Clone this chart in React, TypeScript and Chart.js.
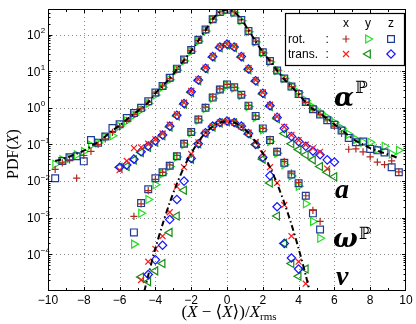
import React, { useEffect, useRef } from 'react';
import { Chart, registerables } from 'chart.js';
Chart.register(...registerables);

// ---------- data (log10 of PDF values) ----------
const xAlpha = [-9.6,-9.2,-8.8,-8.4,-8.0,-7.6,-7.2,-6.8,-6.4,-6.0,-5.6,-5.2,-4.8,-4.4,-4.0,-3.6,-3.2,-2.8,-2.4,-2.0,-1.6,-1.2,-0.8,-0.4,0,0.4,0.8,1.2,1.6,2.0,2.4,2.8,3.2,3.6,4.0,4.4,4.8,5.2,5.6,6.0,6.4,6.8,7.2,7.6,8.0,8.4,8.8,9.2,9.6];
const alphaRotZ = [-1.92,-1.45,-1.35,-1.32,-1.46,-0.88,-0.95,-0.78,-0.55,-0.45,-0.28,-0.14,0.00,0.18,0.42,0.60,0.82,1.07,1.32,1.58,1.86,2.14,2.42,2.62,2.68,2.60,2.40,2.10,1.82,1.52,1.28,1.02,0.80,0.58,0.38,0.16,-0.04,-0.18,-0.34,-0.46,-0.62,-0.82,-0.94,-0.92,-1.12,-1.16,-1.22,-1.62,-1.76];
const alphaRotY = [-1.54,-1.42,-1.38,-1.28,-1.19,-1.02,-0.96,-0.80,-0.76,-0.50,-0.36,-0.20,-0.06,0.12,0.35,0.56,0.77,1.03,1.28,1.54,1.82,2.10,2.40,2.61,2.67,2.60,2.38,2.08,1.80,1.50,1.25,1.02,0.80,0.60,0.42,0.20,0.02,-0.12,-0.26,-0.40,-0.56,-0.72,-0.86,-0.94,-0.94,-1.13,-1.05,-1.26,-1.16];
const alphaRotX = [-1.68,-1.50,-1.42,-1.92,-1.30,-1.19,-1.00,-0.85,-0.67,-0.52,-0.34,-0.18,-0.03,0.16,0.40,0.60,0.80,1.05,1.30,1.56,1.84,2.12,2.42,2.62,2.68,2.62,2.40,2.10,1.82,1.52,1.28,1.03,0.80,0.58,0.38,0.15,-0.04,-0.18,-0.32,-0.50,-0.70,-1.13,-1.12,-1.20,-1.34,-1.48,-1.55,-1.45,-1.75];
const alphaFit = [-1.45,-1.40,-1.33,-1.25,-1.17,-1.05,-0.93,-0.78,-0.62,-0.48,-0.32,-0.16,-0.02,0.15,0.40,0.60,0.80,1.05,1.30,1.56,1.84,2.12,2.42,2.62,2.68,2.62,2.42,2.12,1.82,1.52,1.28,1.02,0.78,0.58,0.38,0.15,-0.03,-0.16,-0.30,-0.45,-0.60,-0.76,-0.90,-1.00,-1.10,-1.17,-1.24,-1.30,-1.38];

const xA = [-6.0,-5.6,-5.2,-4.8,-4.4,-4.0,-3.6,-3.2,-2.8,-2.4,-2.0,-1.6,-1.2,-0.8,-0.4,0,0.4,0.8,1.2,1.6,2.0,2.4,2.8,3.2,3.6,4.0,4.4,4.8,5.2,5.6,6.0];
const aTransZ = [-1.62,-1.56,-1.40,-1.20,-1.04,-0.90,-0.74,-0.50,-0.20,0.12,0.44,0.76,1.08,1.40,1.66,1.74,1.66,1.40,1.06,0.74,0.40,0.06,-0.26,-0.56,-0.78,-0.92,-1.05,-1.18,-1.28,-1.42,-1.48];
const aTransX = [-1.70,-1.45,-1.10,-1.08,-0.98,-0.86,-0.70,-0.46,-0.18,0.14,0.46,0.78,1.10,1.42,1.67,1.74,1.67,1.42,1.08,0.76,0.42,0.08,-0.24,-0.52,-0.74,-0.88,-1.00,-1.10,-1.20,-1.66,null];
const aTransY = [-1.62,-1.60,-1.42,-1.22,-1.08,-0.94,-0.76,-0.52,-0.22,0.10,0.42,0.74,1.06,1.38,1.64,1.72,1.64,1.38,1.04,0.72,0.38,0.04,-0.30,-0.70,-0.98,-1.14,-1.28,-1.42,-1.60,-1.76,-1.88];

const xOmega = [-5.2,-4.8,-4.4,-4.0,-3.6,-3.2,-2.8,-2.4,-2.0,-1.6,-1.2,-0.8,-0.4,0,0.4,0.8,1.2,1.6,2.0,2.4,2.8,3.2,3.6,4.0,4.4,4.8,5.2];
const omegaRotZ = [-3.40,-2.60,-2.22,-1.92,-1.76,-1.58,-1.32,-0.98,-0.66,-0.32,0.00,0.28,0.50,0.64,0.56,0.36,0.06,-0.22,-0.56,-0.88,-1.20,-1.50,-1.82,-2.06,-2.40,-2.88,-3.32];
const omegaRotY = [-3.72,-2.88,-2.50,-2.10,-1.80,-1.60,-1.34,-1.00,-0.68,-0.34,-0.02,0.26,0.48,0.62,0.54,0.34,0.04,-0.26,-0.60,-0.92,-1.24,-1.55,-1.86,-2.14,-2.62,-3.10,-3.56];
const omegaRotX = [-2.96,-2.62,-2.26,-1.95,-1.76,-1.56,-1.30,-0.96,-0.64,-0.30,0.02,0.30,0.52,0.64,0.56,0.36,0.06,-0.22,-0.56,-0.86,-1.18,-1.46,-1.78,-2.04,-2.40,-2.80,-3.10];

const xV = [-4.8,-4.4,-4.0,-3.6,-3.2,-2.8,-2.4,-2.0,-1.6,-1.2,-0.8,-0.4,0,0.4,0.8,1.2,1.6,2.0,2.4,2.8,3.2,3.6,4.0,4.4,4.8];
const vTransX = [-4.70,-4.20,-3.85,-3.50,-2.85,-2.15,-1.62,-1.26,-0.94,-0.68,-0.51,-0.40,-0.37,-0.40,-0.51,-0.68,-0.93,-1.24,-1.62,-2.05,-2.65,-3.50,-4.20,-4.80,null];
const vTransZ = [null,-4.55,-4.15,-3.75,-3.05,-2.50,-2.00,-1.38,-0.98,-0.68,-0.50,-0.40,-0.36,-0.40,-0.50,-0.70,-1.00,-1.35,-1.85,-2.70,-3.70,-4.10,-4.40,null,null];
const vTransY = [-4.62,-4.75,-4.45,-4.25,-3.40,-2.95,-2.25,-1.40,-0.98,-0.70,-0.52,-0.41,-0.38,-0.41,-0.53,-0.72,-1.00,-1.40,-2.05,-2.95,-3.70,-4.25,-4.60,-4.40,null];
const vFit = [-5.37,-4.57,-3.84,-3.18,-2.59,-2.07,-1.62,-1.24,-0.93,-0.68,-0.51,-0.40,-0.37,-0.40,-0.51,-0.68,-0.93,-1.24,-1.62,-2.07,-2.59,-3.18,-3.84,-4.57,-5.37];

const xTickValues = [-10,-8,-6,-4,-2,0,2,4,6,8,10];
const yTickExponents = [-4,-3,-2,-1,0,1,2];
const legendCols = ['x','y','z'];
const legendRows = ['rot.','trans.'];

// ---------- styles ----------
type M = { shape: string; color: string; r: number };
const M_ROTX: M = { shape: 'cross', color: '#b0281e', r: 3.6 };
const M_ROTY: M = { shape: 'triR', color: '#22dd22', r: 4.6 };
const M_ROTZ: M = { shape: 'rect', color: '#1f3c94', r: 4.8 };
const M_TRX: M = { shape: 'crossRot', color: '#ff1a1a', r: 4.2 };
const M_TRY: M = { shape: 'triL', color: '#168c16', r: 4.6 };
const M_TRZ: M = { shape: 'rectRot', color: '#1414ff', r: 4.2 };

function pts(xs: number[], logs: (number | null)[]) {
  const out: { x: number; y: number }[] = [];
  xs.forEach((x, i) => {
    const l = logs[i];
    if (l !== null && l !== undefined) out.push({ x, y: Math.pow(10, l) });
  });
  return out;
}

function scatterSet(label: string, data: any[], m: M) {
  const styleMap: any = { cross: 'cross', crossRot: 'crossRot', triR: 'triangle', triL: 'triangle', rect: 'rect', rectRot: 'rectRot' };
  return {
    label,
    data,
    showLine: false,
    pointStyle: styleMap[m.shape],
    pointRotation: m.shape === 'triR' ? 90 : m.shape === 'triL' ? -90 : 0,
    pointRadius: m.r,
    pointHoverRadius: m.r,
    pointBorderColor: m.color,
    pointBackgroundColor: 'rgba(0,0,0,0)',
    pointBorderWidth: 1.2,
  };
}

function fitSet(label: string, data: any[]) {
  return {
    label,
    data,
    showLine: true,
    pointRadius: 0,
    borderColor: '#000',
    borderWidth: 2,
    borderDash: [6, 3, 1.5, 3],
    tension: 0.3,
    fill: false,
  };
}

function drawMarker(ctx: CanvasRenderingContext2D, m: M, x: number, y: number) {
  ctx.save();
  ctx.strokeStyle = m.color;
  ctx.lineWidth = 1.2;
  ctx.setLineDash([]);
  ctx.beginPath();
  const r = m.r;
  const d = r * Math.SQRT1_2;
  switch (m.shape) {
    case 'cross':
      ctx.moveTo(x - r, y); ctx.lineTo(x + r, y); ctx.moveTo(x, y - r); ctx.lineTo(x, y + r); break;
    case 'crossRot':
      ctx.moveTo(x - d, y - d); ctx.lineTo(x + d, y + d); ctx.moveTo(x - d, y + d); ctx.lineTo(x + d, y - d); break;
    case 'triR':
      ctx.moveTo(x + r, y); ctx.lineTo(x - r * 0.5, y - r * 0.866); ctx.lineTo(x - r * 0.5, y + r * 0.866); ctx.closePath(); break;
    case 'triL':
      ctx.moveTo(x - r, y); ctx.lineTo(x + r * 0.5, y - r * 0.866); ctx.lineTo(x + r * 0.5, y + r * 0.866); ctx.closePath(); break;
    case 'rect':
      ctx.rect(x - d, y - d, 2 * d, 2 * d); break;
    case 'rectRot':
      ctx.moveTo(x, y - r); ctx.lineTo(x + r, y); ctx.lineTo(x, y + r); ctx.lineTo(x - r, y); ctx.closePath(); break;
  }
  ctx.stroke();
  ctx.restore();
}

type Seg = { t: string; font: string; dy?: number };
function drawRich(ctx: CanvasRenderingContext2D, segs: Seg[], cx: number, baseline: number) {
  let total = 0;
  const ws: number[] = [];
  for (const s of segs) { ctx.font = s.font; const w = ctx.measureText(s.t).width; ws.push(w); total += w; }
  let x = cx - total / 2;
  ctx.textAlign = 'left';
  ctx.textBaseline = 'alphabetic';
  segs.forEach((s, i) => { ctx.font = s.font; ctx.fillText(s.t, x, baseline + (s.dy || 0)); x += ws[i]; });
}

const SANS = '"Liberation Sans", Arial, sans-serif';
const SERIF = '"Liberation Serif", "DejaVu Serif", serif';

const decor = {
  id: 'decor',
  beforeDatasetsDraw(chart: any) {
    const { ctx, chartArea, scales } = chart;
    const { left, right, top, bottom } = chartArea;
    ctx.save();
    ctx.strokeStyle = '#8a8a8a';
    ctx.lineWidth = 1;
    ctx.setLineDash([1, 3]);
    for (const v of xTickValues) {
      if (v === -10 || v === 10) continue;
      const px = Math.round(scales.x.getPixelForValue(v)) + 0.5;
      ctx.beginPath(); ctx.moveTo(px, top); ctx.lineTo(px, bottom); ctx.stroke();
    }
    for (const e of yTickExponents) {
      const py = Math.round(scales.y.getPixelForValue(Math.pow(10, e))) + 0.5;
      ctx.beginPath(); ctx.moveTo(left, py); ctx.lineTo(right, py); ctx.stroke();
    }
    ctx.restore();
  },
  afterDatasetsDraw(chart: any) {
    const { ctx, chartArea, scales } = chart;
    const { left, right, top, bottom } = chartArea;
    ctx.save();
    ctx.setLineDash([]);
    // box
    ctx.strokeStyle = '#000';
    ctx.lineWidth = 1;
    ctx.strokeRect(left + 0.5, top + 0.5, right - left - 1, bottom - top - 1);
    // x ticks (inside)
    for (let v = -9; v <= 9; v++) {
      const px = Math.round(scales.x.getPixelForValue(v)) + 0.5;
      const len = v % 2 === 0 ? 4 : 3;
      ctx.beginPath();
      ctx.moveTo(px, bottom); ctx.lineTo(px, bottom - len);
      ctx.moveTo(px, top); ctx.lineTo(px, top + len);
      ctx.stroke();
    }
    // y ticks (inside), major and minor
    for (let e = -5; e <= 2; e++) {
      for (let k = 1; k <= 9; k++) {
        const val = k * Math.pow(10, e);
        if (val <= 1e-5 || val >= 500) continue;
        const py = Math.round(scales.y.getPixelForValue(val)) + 0.5;
        const len = k === 1 ? 4 : 2.5;
        ctx.beginPath();
        ctx.moveTo(left, py); ctx.lineTo(left + len, py);
        ctx.moveTo(right, py); ctx.lineTo(right - len, py);
        ctx.stroke();
      }
    }
    // x tick labels
    ctx.fillStyle = '#000';
    ctx.font = '12px ' + SANS;
    ctx.textAlign = 'center';
    ctx.textBaseline = 'alphabetic';
    for (const v of xTickValues) {
      const px = scales.x.getPixelForValue(v);
      const s = v < 0 ? '\u2212' + Math.abs(v) : String(v);
      ctx.fillText(s, px, bottom + 13);
    }
    // y tick labels 10^e
    ctx.textAlign = 'left';
    for (const e of yTickExponents) {
      const py = scales.y.getPixelForValue(Math.pow(10, e));
      ctx.font = '12px ' + SANS;
      ctx.fillText('10', 27, py + 4.3);
      const w = ctx.measureText('10').width;
      ctx.font = '8px ' + SANS;
      ctx.fillText(e < 0 ? '\u2212' + Math.abs(e) : String(e), 27 + w + 0.5, py - 1.5);
    }
    // legend box
    const lx = 285, ly = 13, lw = 119, lh = 52;
    ctx.fillStyle = '#fff';
    ctx.fillRect(lx, ly, lw, lh);
    ctx.strokeStyle = '#000';
    ctx.lineWidth = 1.2;
    ctx.strokeRect(lx + 0.5, ly + 0.5, lw, lh);
    ctx.fillStyle = '#000';
    ctx.font = '12px ' + SANS;
    const colX = [346, 368, 391];
    const rowY = [39, 54];
    ctx.textAlign = 'center';
    legendCols.forEach((c, i) => ctx.fillText(c, colX[i], 27));
    ctx.textAlign = 'left';
    legendRows.forEach((r, i) => {
      ctx.fillText(r, 288, rowY[i] + 4);
      ctx.fillText(':', 325.5, rowY[i] + 4);
    });
    const legendMarkers = [[M_ROTX, M_ROTY, M_ROTZ], [M_TRX, M_TRY, M_TRZ]];
    legendMarkers.forEach((row, ri) => row.forEach((m, ci) => drawMarker(ctx, m, colX[ci], rowY[ri])));

    // curve labels
    ctx.fillStyle = '#000';
    ctx.textAlign = 'left';
    ctx.font = 'bold italic 26px "DejaVu Serif", serif';
    ctx.fillText('\u03B1', 334, 106);
    const wA = ctx.measureText('\u03B1').width;
    ctx.fillText('\u03C9', 333, 247);
    const wO = ctx.measureText('\u03C9').width;
    ctx.font = 'bold italic 28px ' + SERIF;
    ctx.fillText('a', 335, 198);
    ctx.fillText('v', 336, 285);
    ctx.font = '17px "DejaVu Serif", serif';
    ctx.fillText('\u2119', 334 + wA + 1, 93);
    ctx.fillText('\u2119', 333 + wO + 1, 239);

    // axis titles
    const big = '17px ' + SERIF;
    const it = 'italic 17px ' + SERIF;
    drawRich(ctx, [
      { t: '(', font: big }, { t: 'X', font: it }, { t: ' \u2212 ', font: big },
      { t: '\u27E8', font: big }, { t: 'X', font: it }, { t: '\u27E9', font: big },
      { t: ')/', font: big }, { t: 'X', font: it }, { t: 'rms', font: '11px ' + SERIF, dy: 3 },
    ], 229, 317);
    ctx.save();
    ctx.translate(13, 154);
    ctx.rotate(-Math.PI / 2);
    drawRich(ctx, [
      { t: 'PDF(', font: '16px ' + SERIF }, { t: 'X', font: 'italic 16px ' + SERIF }, { t: ')', font: '16px ' + SERIF },
    ], 0, 5);
    ctx.restore();
    ctx.restore();
  },
};

export default function App() {
  const ref = useRef<HTMLCanvasElement>(null);
  useEffect(() => {
    const datasets: any[] = [
      fitSet('alpha fit', pts(xAlpha, alphaFit)),
      fitSet('v fit', pts(xV, vFit)),
      scatterSet('alpha rot x', pts(xAlpha, alphaRotX), M_ROTX),
      scatterSet('alpha rot z', pts(xAlpha, alphaRotZ), M_ROTZ),
      scatterSet('alpha rot y', pts(xAlpha, alphaRotY), M_ROTY),
      scatterSet('omega rot x', pts(xOmega, omegaRotX), M_ROTX),
      scatterSet('omega rot z', pts(xOmega, omegaRotZ), M_ROTZ),
      scatterSet('omega rot y', pts(xOmega, omegaRotY), M_ROTY),
      scatterSet('a trans x', pts(xA, aTransX), M_TRX),
      scatterSet('a trans z', pts(xA, aTransZ), M_TRZ),
      scatterSet('a trans y', pts(xA, aTransY), M_TRY),
      scatterSet('v trans x', pts(xV, vTransX), M_TRX),
      scatterSet('v trans z', pts(xV, vTransZ), M_TRZ),
      scatterSet('v trans y', pts(xV, vTransY), M_TRY),
    ];
    const chart = new Chart(ref.current as HTMLCanvasElement, {
      type: 'scatter',
      data: { datasets },
      options: {
        animation: false,
        responsive: false,
        maintainAspectRatio: false,
        events: [],
        layout: { padding: { left: 48, top: 9, right: 10, bottom: 33 } },
        plugins: { legend: { display: false }, tooltip: { enabled: false } },
        scales: {
          x: { type: 'linear', min: -10, max: 10, display: false },
          y: { type: 'logarithmic', min: 1e-5, max: 500, display: false },
        },
      } as any,
      plugins: [decor as any],
    });
    return () => chart.destroy();
  }, []);
  return (
    <div style={{ position: 'fixed', left: 0, top: 0, width: 416, height: 324, background: '#fff' }}>
      <canvas ref={ref} width={416} height={324} style={{ width: 416, height: 324, display: 'block' }} />
    </div>
  );
}
